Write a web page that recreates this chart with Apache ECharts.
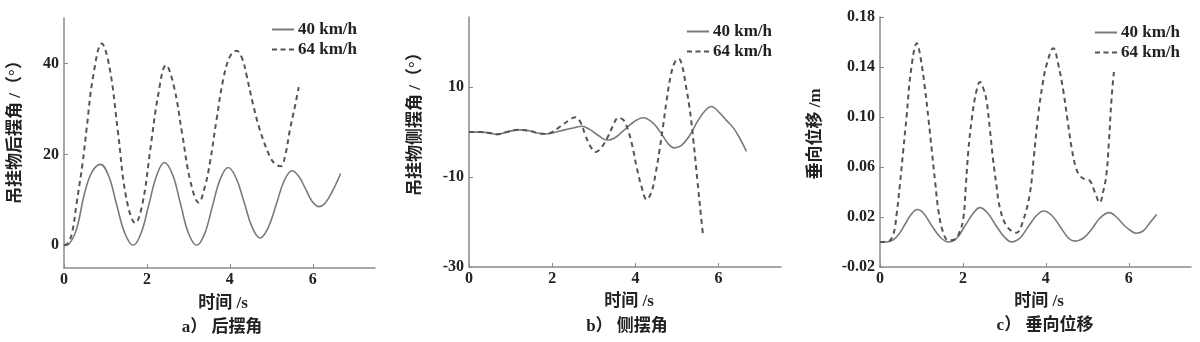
<!DOCTYPE html>
<html>
<head>
<meta charset="utf-8">
<script src="https://cdn.jsdelivr.net/npm/echarts@6/dist/echarts.min.js"></script>
<style>html,body{margin:0;padding:0;background:#fff}#c{width:1200px;height:342px}</style>
</head>
<body>
<div id="c"></div>
<script>
// ---------- data ----------
const seriesNames = ['40 km/h', '64 km/h'];
const xTicks = [0, 2, 4, 6];

// a) 后摆角
const aTicksY = [0, 20, 40];
const aT40 = [0,0.12,0.3,0.5,0.68,0.88,1.08,1.27,1.47,1.67,1.86,2.05,2.24,2.42,2.62,2.81,3.0,3.2,3.39,3.58,3.77,3.96,4.15,4.35,4.54,4.73,4.92,5.12,5.31,5.5,5.66,5.82,5.98,6.15,6.3,6.48,6.67];
const aV40 = [0,0.3,3.5,11.6,16.2,17.8,15.2,8.9,2.6,0,2.7,9.1,15.5,18.2,15.5,9.1,2.7,0,2.5,8.6,14.6,17.1,14.8,9.3,3.9,1.6,3.8,9.0,14.2,16.4,15.2,12.5,9.7,8.5,9.3,12.0,15.8];
const aT64 = [0,0.1,0.2,0.3,0.45,0.55,0.7,0.91,1.1,1.3,1.5,1.72,1.9,2.08,2.27,2.46,2.65,2.85,3.05,3.25,3.4,3.52,3.68,3.84,4.0,4.16,4.3,4.4,4.56,4.72,4.96,5.1,5.23,5.34,5.45,5.57,5.66];
const aV64 = [0,0.5,3,9,18.2,26,37,44.4,39,25,10.5,4.9,9.5,21,33,39.6,35,24.5,14,9.4,13,18.2,27.7,36.5,41.5,42.8,41,37.5,31,25.5,19.6,17.8,17.4,20,25.5,30.6,34.8];

// b) 侧摆角
const bTicksY = [-30, -10, 10];
const bT40 = [0,0.3,0.5,0.67,0.9,1.19,1.45,1.65,1.83,2.05,2.3,2.5,2.71,2.9,3.1,3.33,3.5,3.7,3.95,4.19,4.4,4.6,4.78,4.93,5.1,5.3,5.5,5.68,5.83,6.0,6.2,6.35,6.5,6.67];
const bV40 = [0,0,-0.2,-0.5,0,0.5,0.3,-0.2,-0.4,-0.1,0.5,0.9,1.3,0.6,-0.7,-1.8,-1.3,0.2,2.2,3.2,2.2,0,-2.5,-3.5,-3.0,-0.8,2.5,4.8,5.7,4.5,2.5,1.0,-1.2,-4.3];
const bT64 = [0,0.3,0.5,0.67,0.9,1.19,1.45,1.65,1.83,2.0,2.2,2.4,2.55,2.68,2.79,2.92,3.05,3.2,3.35,3.45,3.59,3.72,3.82,3.93,4.03,4.15,4.27,4.39,4.49,4.58,4.66,4.75,4.85,4.95,5.04,5.13,5.21,5.3,5.39,5.49,5.57,5.63];
const bV64 = [0,0,-0.2,-0.5,0,0.5,0.3,-0.2,-0.4,0,1.3,2.6,3.3,2.2,-0.5,-3.2,-4.4,-3.2,-0.8,1.2,3.2,2.6,0.5,-3.2,-7.8,-12.2,-15,-13.2,-9,-4,1,7,12.6,15.6,16.3,14.5,10.5,5.5,-1.5,-10.7,-18.1,-23.3];

// c) 垂向位移
const cTicksY = [-0.02, 0.02, 0.06, 0.10, 0.14, 0.18];
const cT40 = [0,0.2,0.4,0.6,0.75,0.9,1.05,1.25,1.45,1.65,1.85,2.05,2.25,2.41,2.6,2.8,3.0,3.17,3.37,3.57,3.77,3.95,4.15,4.35,4.55,4.7,4.9,5.1,5.3,5.53,5.7,5.9,6.05,6.18,6.35,6.5,6.67];
const cV40 = [0,0.0002,0.004,0.014,0.022,0.026,0.023,0.013,0.004,0,0.003,0.013,0.023,0.0275,0.023,0.013,0.004,0,0.003,0.012,0.021,0.0248,0.021,0.012,0.003,0.0007,0.003,0.01,0.019,0.0235,0.02,0.013,0.009,0.007,0.009,0.015,0.022];
const cT64 = [0,0.2,0.32,0.4,0.48,0.56,0.64,0.75,0.89,0.98,1.08,1.17,1.25,1.33,1.41,1.52,1.65,1.8,1.92,2.01,2.07,2.13,2.22,2.32,2.41,2.5,2.57,2.65,2.73,2.81,2.89,3.05,3.29,3.45,3.61,3.71,3.81,3.92,4.02,4.18,4.3,4.42,4.52,4.62,4.72,4.82,4.95,5.06,5.18,5.3,5.38,5.46,5.52,5.58,5.64];
const cV64 = [0,0.0005,0.006,0.022,0.046,0.073,0.1,0.138,0.159,0.147,0.124,0.098,0.073,0.048,0.025,0.008,0.0013,0.002,0.008,0.019,0.045,0.073,0.1,0.12,0.128,0.122,0.113,0.09,0.065,0.045,0.0275,0.013,0.0074,0.017,0.038,0.068,0.1,0.126,0.142,0.155,0.142,0.121,0.098,0.0756,0.06,0.053,0.05,0.049,0.04,0.0315,0.04,0.054,0.08,0.113,0.136];

// ---------- chart ----------
const FONT = '"Liberation Serif", "Noto Sans CJK SC", serif';
const TXT = '#222';
const AX = '#8a8a8a';
const C40 = '#7a7a7a';
const C64 = '#555';
const zip = (t, v) => t.map((x, i) => [x, v[i]]);

const grids = [
  { left: 64, top: 18, width: 311, height: 250 },
  { left: 469, top: 17, width: 312, height: 250 },
  { left: 880, top: 17, width: 311, height: 250 }
];
const yRanges = [[-5, 50, aTicksY], [-30, 25.6, bTicksY], [-0.02, 0.18, cTicksY]];

const xAxes = grids.map((g, i) => ({
  type: 'value', gridIndex: i, min: 0, max: 7.5,
  axisLine: { onZero: false, lineStyle: { color: AX, width: 1.5 } },
  axisTick: { inside: true, length: 4, customValues: xTicks, lineStyle: { color: AX } },
  axisLabel: { customValues: xTicks, color: TXT, fontFamily: FONT, fontSize: 16, fontWeight: 'bold', margin: 4 },
  splitLine: { show: false }
}));
const yAxes = yRanges.map((r, i) => ({
  type: 'value', gridIndex: i, min: r[0], max: r[1],
  axisLine: { show: true, onZero: false, lineStyle: { color: AX, width: 1.5 } },
  axisTick: { show: true, inside: true, length: 4, customValues: r[2], lineStyle: { color: AX } },
  axisLabel: {
    customValues: r[2], color: TXT, fontFamily: FONT, fontSize: 16, fontWeight: 'bold', margin: 5,
    formatter: i === 2 ? (v => v.toFixed(2)) : (v => String(Math.round(v)))
  },
  splitLine: { show: false }
}));

function mk(name, data, idx) {
  const dashed = name === seriesNames[1];
  return {
    type: 'line', name, data, xAxisIndex: idx, yAxisIndex: idx,
    symbol: 'none', smooth: 0.4, silent: true,
    lineStyle: dashed ? { color: C64, width: 2, type: [5, 4] } : { color: C40, width: 1.6 },
    itemStyle: { color: dashed ? C64 : C40 }
  };
}
const series = [
  mk(seriesNames[0], zip(aT40, aV40), 0), mk(seriesNames[1], zip(aT64, aV64), 0),
  mk(seriesNames[0], zip(bT40, bV40), 1), mk(seriesNames[1], zip(bT64, bV64), 1),
  mk(seriesNames[0], zip(cT40, cV40), 2), mk(seriesNames[1], zip(cT64, cV64), 2)
];

const legendPos = [[272, 21], [687, 23], [1095, 24]];
const legendData = [
  { name: seriesNames[0], icon: 'path://M0,0h22v2h-22z' },
  { name: seriesNames[1], icon: 'path://M0,0h5v2h-5z M8.5,0h5v2h-5z M17,0h5v2h-5z' }
];
const legends = legendPos.map(p => ({
  data: legendData, orient: 'vertical', left: p[0], top: p[1], itemGap: 3,
  itemWidth: 22, itemHeight: 2, padding: 0, selectedMode: false,
  textStyle: { color: TXT, fontFamily: FONT, fontSize: 17, fontWeight: 'bold', padding: [0, 0, 0, -1] }
}));

function txt(x, y, s, rot) {
  return {
    type: 'text', x, y, rotation: rot || 0, silent: true,
    style: { text: s, fill: TXT, font: 'bold 17px ' + FONT, textAlign: 'center', textVerticalAlign: 'middle' }
  };
}
const graphics = [
  txt(16, 128, '吊挂物后摆角 /（°）', Math.PI / 2),
  txt(416, 120, '吊挂物侧摆角 /（°）', Math.PI / 2),
  txt(816, 134, '垂向位移 /m', Math.PI / 2),
  txt(223, 304, '时间 /s'), txt(629, 302, '时间 /s'), txt(1039, 302, '时间 /s'),
  txt(222, 328, 'a） 后摆角'), txt(627, 327, 'b） 侧摆角'), txt(1045, 326, 'c） 垂向位移')
];

const chart = echarts.init(document.getElementById('c'), null, { renderer: 'canvas' });
chart.setOption({
  animation: false,
  backgroundColor: '#fff',
  grid: grids,
  xAxis: xAxes,
  yAxis: yAxes,
  legend: legends,
  series,
  graphic: graphics
});
</script>
</body>
</html>
